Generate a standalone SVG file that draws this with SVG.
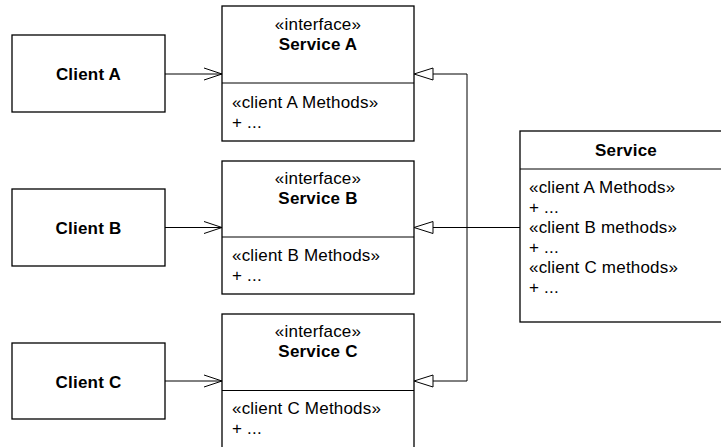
<svg xmlns="http://www.w3.org/2000/svg" width="721" height="447" viewBox="0 0 721 447">
<style>
.box{fill:#fff;stroke:#000;stroke-width:1.3}
.div{stroke:#000;stroke-width:1}
.t{font-family:"Liberation Sans",Arial,sans-serif;font-size:17px;letter-spacing:0.2px;fill:#000}
.b{font-weight:bold}
.c{text-anchor:middle}
.ln{fill:none;stroke:#000;stroke-width:1}
.gen{fill:#fff;stroke:#000;stroke-width:1}
</style>
<rect width="721" height="447" fill="#fff"/>
<g id="client-a"><rect class="box" x="12" y="35" width="153" height="77"/><text class="t b c" x="88.5" y="80">Client A</text></g>
<g id="client-b"><rect class="box" x="12" y="189" width="153" height="77"/><text class="t b c" x="88.5" y="233.5">Client B</text></g>
<g id="client-c"><rect class="box" x="12" y="343" width="153" height="76"/><text class="t b c" x="88.5" y="387.5">Client C</text></g>
<g id="service-a"><rect class="box" x="222" y="6" width="192" height="135"/><line class="div" x1="222" y1="83" x2="414" y2="83"/>
<text class="t c" x="318" y="30">«interface»</text><text class="t b c" x="318" y="50">Service A</text>
<text class="t" x="232" y="108">«client A Methods»</text><text class="t" x="232" y="128">+ ...</text></g>
<g id="service-b"><rect class="box" x="222" y="161" width="192" height="133"/><line class="div" x1="222" y1="237" x2="414" y2="237"/>
<text class="t c" x="318" y="184">«interface»</text><text class="t b c" x="318" y="204">Service B</text>
<text class="t" x="232" y="261">«client B Methods»</text><text class="t" x="232" y="281">+ ...</text></g>
<g id="service-c"><rect class="box" x="222" y="314" width="192" height="140"/><line class="div" x1="222" y1="390.5" x2="414" y2="390.5"/>
<text class="t c" x="318" y="337">«interface»</text><text class="t b c" x="318" y="357">Service C</text>
<text class="t" x="232" y="414">«client C Methods»</text><text class="t" x="232" y="434">+ ...</text></g>
<g id="service"><rect class="box" x="520" y="131" width="212" height="191"/><line class="div" x1="520" y1="169" x2="732" y2="169"/>
<text class="t b c" x="626" y="156">Service</text>
<text class="t" x="529" y="193">«client A Methods»</text><text class="t" x="529" y="213">+ ...</text>
<text class="t" x="529" y="233">«client B methods»</text><text class="t" x="529" y="253">+ ...</text>
<text class="t" x="529" y="273">«client C methods»</text><text class="t" x="529" y="293">+ ...</text></g>
<g id="connectors">
<line class="ln" x1="165" y1="74" x2="222" y2="74"/><polyline class="ln" points="204,68 222,74 204,80"/>
<line class="ln" x1="165" y1="227.5" x2="222" y2="227.5"/><polyline class="ln" points="204,221.5 222,227.5 204,233.5"/>
<line class="ln" x1="165" y1="381" x2="222" y2="381"/><polyline class="ln" points="204,375 222,381 204,387"/>
<polyline class="ln" points="433,74 467,74 467,381 433,381"/>
<line class="ln" x1="520" y1="227.5" x2="433" y2="227.5"/>
<polygon class="gen" points="414,74 433,68 433,80"/>
<polygon class="gen" points="414,227.5 433,221.5 433,233.5"/>
<polygon class="gen" points="414,381 433,375 433,387"/>
</g>
</svg>
